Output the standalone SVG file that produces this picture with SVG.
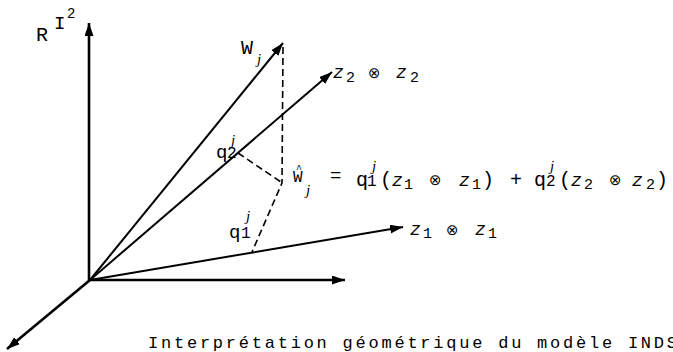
<svg xmlns="http://www.w3.org/2000/svg" width="673" height="352" viewBox="0 0 673 352">
<style>
.ax{stroke:#000;stroke-width:2.6;fill:none}
.vec{stroke:#000;stroke-width:2;fill:none}
.dash{stroke:#000;stroke-width:1.6;stroke-dasharray:7 4;fill:none}
.m{font-family:"Liberation Mono",monospace;fill:#000}
.mi{font-family:"Liberation Mono",monospace;font-style:italic;fill:#000}
.it{font-family:"Liberation Serif",serif;font-style:italic;fill:#000}
.sym{font-family:"DejaVu Sans",sans-serif;fill:#000}
</style>
<defs>
<marker id="ah" markerUnits="userSpaceOnUse" markerWidth="15" markerHeight="10" refX="13" refY="4.5" orient="auto">
<path d="M0,0 L13,4.5 L0,9 z" fill="#000"/>
</marker>
</defs>
<rect width="673" height="352" fill="#fff"/>
<g id="connectors">
<line class="ax" x1="89" y1="280" x2="89" y2="23" marker-end="url(#ah)"/>
<line class="ax" x1="89" y1="280" x2="345" y2="280" marker-end="url(#ah)"/>
<line class="ax" x1="90" y1="280" x2="7" y2="349" marker-end="url(#ah)"/>
<line class="vec" x1="90" y1="280" x2="403" y2="227" marker-end="url(#ah)"/>
<line class="vec" x1="90" y1="280" x2="332" y2="72" marker-end="url(#ah)"/>
<line class="vec" x1="90" y1="280" x2="283" y2="43" marker-end="url(#ah)"/>
<polyline class="dash" points="283,47 282,183 252,252"/>
<line class="dash" x1="238" y1="153" x2="281" y2="182"/>
</g>
<g id="axis-label">
<text class="m" x="36" y="41" font-size="20">R</text>
<text class="m" x="54" y="29" font-size="19">I</text>
<text class="m" x="67" y="18" font-size="14">2</text>
</g>
<g id="w-label">
<text class="m" x="241" y="54" font-size="20">W</text>
<text class="it" x="257" y="64" font-size="15">j</text>
</g>
<g id="z2-label">
<text class="mi" x="333" y="78" font-size="18">z</text>
<text class="m" x="346" y="82" font-size="15">2</text>
<text class="sym" x="368" y="78" font-size="15">⊗</text>
<text class="mi" x="396" y="78" font-size="18">z</text>
<text class="m" x="410" y="82" font-size="15">2</text>
</g>
<g id="q2-label">
<text class="m" x="216" y="158" font-size="19">q</text>
<text class="m" x="227" y="158" font-size="16">2</text>
<text class="it" x="231" y="145" font-size="15">j</text>
</g>
<g id="q1-label">
<text class="m" x="229" y="238" font-size="19">q</text>
<text class="m" x="241" y="238" font-size="16">1</text>
<text class="it" x="246" y="221" font-size="15">j</text>
</g>
<g id="z1-label">
<text class="mi" x="410" y="235" font-size="18">z</text>
<text class="m" x="423" y="238" font-size="15">1</text>
<text class="sym" x="446" y="235" font-size="15">⊗</text>
<text class="mi" x="475" y="235" font-size="18">z</text>
<text class="m" x="488" y="238" font-size="15">1</text>
</g>
<g id="equation">
<text class="m" x="296" y="172" font-size="10">^</text>
<text class="m" x="293" y="182" font-size="16">W</text>
<text class="it" x="306" y="195" font-size="15">j</text>
<text class="m" x="330" y="181" font-size="19">=</text>
<text class="m" x="356" y="186" font-size="20">q</text>
<text class="m" x="367" y="186" font-size="16">1</text>
<text class="it" x="372" y="171" font-size="15">j</text>
<text class="m" x="380" y="186" font-size="20">(</text>
<text class="mi" x="392" y="186" font-size="18">z</text>
<text class="m" x="404" y="189" font-size="15">1</text>
<text class="sym" x="429" y="185" font-size="15">⊗</text>
<text class="mi" x="459" y="186" font-size="18">z</text>
<text class="m" x="472" y="189" font-size="15">1</text>
<text class="m" x="482" y="186" font-size="20">)</text>
<text class="m" x="510" y="186" font-size="20">+</text>
<text class="m" x="534" y="186" font-size="20">q</text>
<text class="m" x="546" y="186" font-size="16">2</text>
<text class="it" x="550" y="171" font-size="15">j</text>
<text class="m" x="559" y="186" font-size="20">(</text>
<text class="mi" x="571" y="186" font-size="18">z</text>
<text class="m" x="584" y="189" font-size="15">2</text>
<text class="sym" x="609" y="185" font-size="15">⊗</text>
<text class="mi" x="632" y="186" font-size="18">z</text>
<text class="m" x="646" y="189" font-size="15">2</text>
<text class="m" x="656" y="186" font-size="20">)</text>
</g>
<g id="caption">
<text class="m" x="148" y="348" font-size="17" textLength="529" lengthAdjust="spacing">Interprétation géométrique du modèle INDS</text>
</g>
</svg>
